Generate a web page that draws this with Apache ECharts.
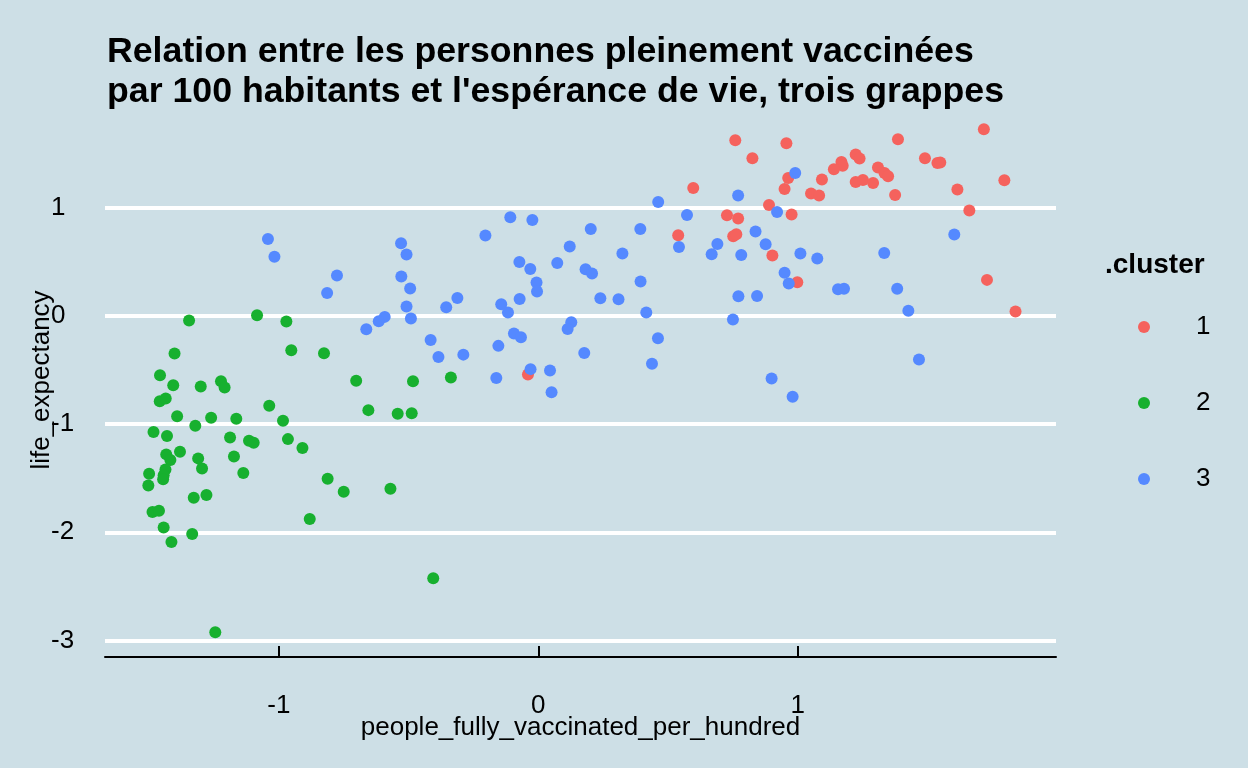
<!DOCTYPE html>
<html>
<head>
<meta charset="utf-8">
<title>Vaccination et espérance de vie</title>
<script src="https://cdn.jsdelivr.net/npm/echarts@6/dist/echarts.min.js"></script>
<style>
  html, body { margin: 0; padding: 0; background: #cddfe6; }
  #chart { width: 1248px; height: 768px; }
</style>
</head>
<body>
<div id="chart"></div>
<script>
// tick labels
const xTicks = [-1, 0, 1]
const yTicks = [-3, -2, -1, 0, 1]
const clusterNames = ['1', '2', '3']

// cluster 1 : [people_fully_vaccinated_per_hundred, life_expectancy]
const cluster1 = [
  [0.759, 1.623], [0.956, 1.595], [0.825, 1.457], [1.168, 1.423], [1.173, 1.389],
  [1.139, 1.355], [0.963, 1.275], [0.597, 1.182], [1.093, 1.260], [0.949, 1.173],
  [1.051, 1.131], [1.082, 1.112], [0.889, 1.025], [0.976, 0.937], [0.727, 0.930],
  [0.770, 0.900], [0.539, 0.745], [0.751, 0.736], [0.763, 0.755], [0.902, 0.558],
  [0.998, 0.311], [1.223, 1.491], [1.238, 1.454], [1.386, 1.632], [1.717, 1.725],
  [1.309, 1.371], [1.334, 1.321], [1.348, 1.291], [1.223, 1.238], [1.251, 1.256],
  [1.290, 1.229], [1.490, 1.457], [1.538, 1.413], [1.549, 1.417], [1.796, 1.254],
  [1.375, 1.118], [1.615, 1.168], [1.661, 0.974], [1.729, 0.333], [1.839, 0.041],
  [-0.040, -0.541]
]

// cluster 2
const cluster2 = [
  [-1.346, -0.042], [-1.084, 0.006], [-0.971, -0.052], [-1.402, -0.347], [-0.952, -0.317],
  [-0.826, -0.345], [-1.458, -0.548], [-1.407, -0.640], [-1.301, -0.652], [-1.223, -0.603],
  [-1.209, -0.661], [-1.459, -0.788], [-1.436, -0.763], [-1.037, -0.831], [-1.392, -0.927],
  [-1.261, -0.942], [-1.164, -0.951], [-1.322, -1.016], [-0.984, -0.970], [-1.483, -1.074],
  [-1.431, -1.111], [-1.188, -1.123], [-1.115, -1.155], [-1.097, -1.173], [-0.965, -1.139],
  [-0.909, -1.222], [-1.381, -1.256], [-1.434, -1.280], [-1.418, -1.333], [-1.311, -1.317],
  [-1.173, -1.299], [-1.296, -1.410], [-1.137, -1.453], [-1.500, -1.460], [-1.437, -1.419],
  [-1.444, -1.472], [-1.446, -1.511], [-1.503, -1.567], [-0.812, -1.506], [-0.750, -1.626],
  [-1.328, -1.681], [-1.279, -1.656], [-1.487, -1.813], [-1.462, -1.801], [-0.881, -1.878],
  [-1.444, -1.955], [-1.334, -2.017], [-1.414, -2.091], [-1.245, -2.925], [-0.702, -0.600],
  [-0.655, -0.871], [-0.542, -0.905], [-0.488, -0.899], [-0.483, -0.603], [-0.337, -0.569],
  [-0.570, -1.598], [-0.405, -2.426]
]

// cluster 3
const cluster3 = [
  [-1.042, 0.710], [-1.017, 0.547], [-0.776, 0.373], [-0.814, 0.212], [-0.529, 0.672],
  [-0.508, 0.567], [-0.528, 0.364], [-0.494, 0.253], [-0.508, 0.087], [-0.491, -0.024],
  [-0.592, -0.009], [-0.615, -0.049], [-0.663, -0.123], [-0.355, 0.080], [-0.312, 0.166],
  [-0.415, -0.222], [-0.385, -0.380], [-0.289, -0.358], [0.462, 1.053], [-0.108, 0.912],
  [-0.023, 0.887], [-0.204, 0.743], [0.202, 0.804], [0.393, 0.804], [0.542, 0.637],
  [0.121, 0.641], [0.324, 0.576], [-0.073, 0.499], [-0.031, 0.434], [0.073, 0.490],
  [0.182, 0.431], [0.207, 0.392], [0.394, 0.318], [-0.007, 0.309], [-0.005, 0.225],
  [-0.072, 0.157], [-0.143, 0.108], [-0.117, 0.031], [0.239, 0.164], [0.309, 0.154],
  [0.416, 0.031], [0.127, -0.058], [0.113, -0.120], [-0.094, -0.163], [-0.067, -0.197],
  [-0.154, -0.277], [0.461, -0.206], [0.177, -0.342], [0.438, -0.443], [-0.030, -0.492],
  [0.045, -0.504], [-0.162, -0.573], [0.051, -0.705], [0.990, 1.321], [0.770, 1.112],
  [0.920, 0.961], [0.573, 0.933], [0.837, 0.780], [0.690, 0.665], [0.668, 0.570],
  [0.782, 0.564], [0.876, 0.662], [1.010, 0.576], [1.075, 0.530], [0.949, 0.399],
  [0.965, 0.299], [1.155, 0.247], [1.178, 0.251], [0.771, 0.182], [0.843, 0.185],
  [0.750, -0.033], [1.603, 0.752], [1.333, 0.581], [1.383, 0.251], [1.426, 0.048],
  [1.467, -0.403], [0.899, -0.578], [0.980, -0.748]
]

const clusterColors = ['#F5625D', '#17B02F', '#5589FF']
const fontName = 'Liberation Sans, Arial, Helvetica, sans-serif'

const chart = echarts.init(document.getElementById('chart'))

const makeSeries = (name, data, color) => {
  return {
    name: name,
    type: 'scatter',
    data: data,
    symbol: 'circle',
    symbolSize: 12,
    itemStyle: {color: color, opacity: 1},
    emphasis: {disabled: true},
  }
}

const option = {
  backgroundColor: '#cddfe6',
  animation: false,
  textStyle: {fontFamily: fontName},
  title: [
    {
      text: 'Relation entre les personnes pleinement vaccinées\npar 100 habitants et l\'espérance de vie, trois grappes',
      left: 102,
      top: 27,
      textStyle: {
        fontSize: 35.7,
        fontWeight: 'bold',
        lineHeight: 40,
        color: '#000',
        fontFamily: fontName,
      },
    },
    {
      text: '.cluster',
      left: 1100,
      top: 246,
      textStyle: {fontSize: 28, fontWeight: 'bold', color: '#000', fontFamily: fontName},
    },
  ],
  legend: {
    orient: 'vertical',
    left: 1133,
    top: 307,
    icon: 'circle',
    itemWidth: 12,
    itemHeight: 12,
    itemGap: 46,
    selectedMode: false,
    data: clusterNames,
    formatter: '{p|{name}}',
    textStyle: {
      color: '#000',
      fontSize: 26,
      lineHeight: 30,
      fontFamily: fontName,
      rich: {p: {padding: [0, 0, 0, 41], fontSize: 26, lineHeight: 30, color: '#000'}},
    },
  },
  grid: {left: 105, right: 192, top: 103, bottom: 111, containLabel: false},
  xAxis: {
    type: 'value',
    min: -1.67,
    max: 1.995,
    name: 'people_fully_vaccinated_per_hundred',
    nameLocation: 'middle',
    nameGap: 58,
    nameMoveOverlap: false,
    nameTextStyle: {fontSize: 26, color: '#000', fontFamily: fontName},
    axisLine: {show: true, onZero: false, lineStyle: {color: '#000', width: 2}},
    axisTick: {show: true, inside: true, length: 11, customValues: xTicks, lineStyle: {color: '#000', width: 2}},
    axisLabel: {customValues: xTicks, fontSize: 26, color: '#000', margin: 36, fontFamily: fontName},
    splitLine: {show: false},
  },
  yAxis: {
    type: 'value',
    min: -3.153,
    max: 1.968,
    name: 'life_expectancy',
    nameLocation: 'middle',
    nameGap: 50,
    nameMoveOverlap: false,
    nameRotate: 90,
    nameTextStyle: {fontSize: 26, color: '#000', fontFamily: fontName},
    axisLine: {show: false},
    axisTick: {show: false},
    axisLabel: {customValues: yTicks, fontSize: 26, color: '#000', align: 'left', margin: 54, fontFamily: fontName},
    splitLine: {show: true, showMinLine: false, showMaxLine: false, lineStyle: {color: '#ffffff', width: 4}},
  },
  series: [
    makeSeries(clusterNames[0], cluster1, clusterColors[0]),
    makeSeries(clusterNames[1], cluster2, clusterColors[1]),
    makeSeries(clusterNames[2], cluster3, clusterColors[2]),
  ],
}

chart.setOption(option)
</script>
</body>
</html>
